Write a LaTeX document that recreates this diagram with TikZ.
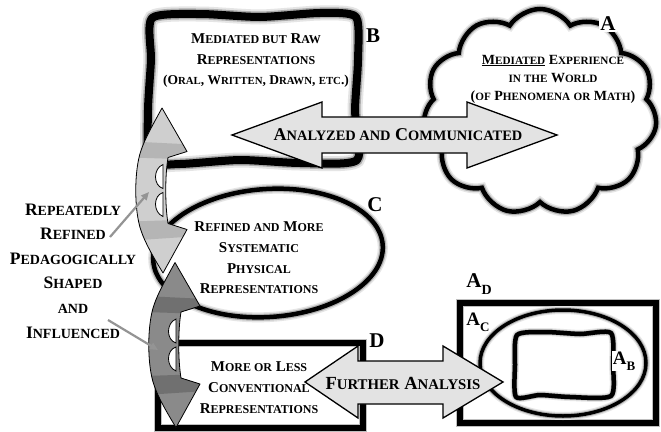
\documentclass[tikz,border=0pt]{standalone}
\usepackage{fontspec}
\setmainfont{Liberation Serif}
\usetikzlibrary{shapes.symbols,arrows.meta}
\newcommand\q[1]{\scalebox{0.8}{#1}}
\newcommand\cycarrows[3]{%
\begin{scope}[shift={#1}]
  \begin{scope}
    \clip (0,-82.5) -- (25,-39) -- (6,-33) .. controls (3,-15) and (3,15) .. (6,33) -- (25,39) -- (1,82.5) .. controls (-9,66) and (-17,52) .. (-21,40) .. controls (-28,20) and (-28,-20) .. (-21,-40) .. controls (-17,-52) and (-9,-66) .. (0,-82.5) -- cycle;
    \fill[#2] (-40,-90) rectangle (40,90);
    \fill[#3] (-30,-49) -- (30,-46) -- (30,-31) -- (-30,-33) -- cycle;
    \fill[#3] (-30,31) -- (30,29) -- (30,46) -- (-30,50) -- cycle;
  \end{scope}
  \draw[black, line width=0.8pt, line join=round] (0,-82.5) -- (25,-39) -- (6,-33) .. controls (3,-15) and (3,15) .. (6,33) -- (25,39) -- (1,82.5) .. controls (-9,66) and (-17,52) .. (-21,40) .. controls (-28,20) and (-28,-20) .. (-21,-40) .. controls (-17,-52) and (-9,-66) .. (0,-82.5) -- cycle;
  \filldraw[fill=white, draw=black, line width=0.8pt] (1,-26) .. controls (-9,-22) and (-9,-5) .. (1,-2) -- cycle;
  \filldraw[fill=white, draw=black, line width=0.8pt] (1,2) .. controls (-9,5) and (-9,22) .. (1,26) -- cycle;
\end{scope}}
\begin{document}
\begin{tikzpicture}[x=1pt,y=-1pt,
  blurthick/.style={preaction={draw=black!10, line width=15pt}, preaction={draw=black!32, line width=11pt}},
  blurmid/.style={preaction={draw=black!10, line width=10pt}, preaction={draw=black!30, line width=7pt}},
  blurthin/.style={preaction={draw=black!10, line width=8pt}, preaction={draw=black!30, line width=5.5pt}},
  bt/.style={font=\bfseries\fontsize{15}{20.5}\selectfont, align=center, inner sep=0pt},
  lbl/.style={font=\bfseries\fontsize{21}{21}\selectfont, inner sep=0pt},
  sublbl/.style={font=\bfseries\fontsize{19}{19}\selectfont, inner sep=1pt, fill=white},
  dblarrow/.style={fill=black!11, draw=black, line width=1.3pt, line join=miter},
  hint/.style={draw=black!42, line width=2.2pt, -{Triangle[length=8pt,width=7pt]}},
]
\useasboundingbox (0,0) rectangle (661,431);
\fill[white] (0,0) rectangle (661,431);

% Box B
\draw[line width=8pt, line join=round, blurthick] plot[smooth cycle, tension=0.4] coordinates {(152,18) (200,14) (260,17) (320,13) (356,17) (358,60) (355,110) (357,160) (300,163) (240,160) (180,164) (150,161) (148,110) (151,60)};
% Cloud A
\node (A) [cloud, cloud puffs=11, cloud puff arc=115, cloud ignores aspect, minimum width=234pt, minimum height=206pt, draw, line width=4.5pt, blurmid] at (540,112) {};
% Ellipse C
\draw[line width=4.5pt, blurmid] (268,253) ellipse [x radius=115, y radius=64, rotate=4];
% Box D
\draw[line width=5.5pt, preaction={draw=black!25, line width=8pt}] (158,343) rectangle (363,428);
% A_D
\draw[line width=5.5pt, preaction={draw=black!25, line width=8pt}] (460,303) rectangle (656,423);
% A_C
\draw[line width=3.5pt, blurthin] (563,363) ellipse [x radius=83, y radius=53];
% A_B
\draw[line width=4.5pt, line join=round, blurthin] plot[smooth cycle, tension=0.4] coordinates {(517,335) (545,332) (580,334) (611,333) (613,365) (611,396) (570,397) (540,395) (516,397) (515,365)};

% double arrows
\draw[dblarrow] (232,135) -- (322,102) -- (322,117) -- (467,117) -- (467,102) -- (557,135) -- (467,168) -- (467,153) -- (322,153) -- (322,168) -- cycle;
\draw[dblarrow] (305,382) -- (358,346) -- (358,361) -- (443,361) -- (443,346) -- (503,382) -- (443,418) -- (443,404) -- (358,404) -- (358,418) -- cycle;

% cycle arrows
\cycarrows{(162,190.5)}{black!19}{black!29}
\cycarrows{(175,345)}{black!46}{black!56}

% texts
\node[bt] (tB) at (256,61) {M\q{EDIATED BUT} R\q{AW}\\ R\q{EPRESENTATIONS}\\ {\fontsize{13.5}{18}\selectfont (O\q{RAL}, W\q{RITTEN}, D\q{RAWN}, \q{ETC}.)}};
\node[bt, font=\bfseries\fontsize{14}{18}\selectfont] (tA) at (553,79) {\underline{M\q{EDIATED}} E\q{XPERIENCE}\\ \q{IN THE} W\q{ORLD}\\ (\q{OF} P\q{HENOMENA} \q{OR} M\q{ATH})};
\node[bt, font=\bfseries\fontsize{15}{20.7}\selectfont] (tC) at (259,258) {R\q{EFINED AND} M\q{ORE}\\ S\q{YSTEMATIC}\\ P\q{HYSICAL}\\ R\q{EPRESENTATIONS}};
\node[bt, font=\bfseries\fontsize{15}{21}\selectfont] (tD) at (259,388) {M\q{ORE OR} L\q{ESS}\\ C\q{ONVENTIONAL}\\ R\q{EPRESENTATIONS}};
\node[bt, font=\bfseries\fontsize{17.5}{24.6}\selectfont] (tL) at (73,271) {R\q{EPEATEDLY}\\ R\q{EFINED}\\ P\q{EDAGOGICALLY}\\ S\q{HAPED}\\ \q{AND}\\ I\q{NFLUENCED}};
\node[bt, font=\bfseries\fontsize{18}{20}\selectfont] (tAC) at (398,135) {A\q{NALYZED AND} C\q{OMMUNICATED}};
\node[bt, font=\bfseries\fontsize{18.5}{20}\selectfont] (tFA) at (403,383) {F\q{URTHER} A\q{NALYSIS}};

% labels
\node[lbl] (lB) at (373,36) {B};
\node[lbl, fill=white, inner sep=1.5pt] (lA) at (608,24) {A};
\node[lbl] (lC) at (375,205) {C};
\node[lbl] (lD) at (377,341) {D};
\node[lbl] (lAD) at (479,284) {A\raisebox{-0.3em}{\fontsize{14}{14}\selectfont D}};
\node[sublbl] (lAC) at (478,322) {A\raisebox{-0.3em}{\fontsize{13}{13}\selectfont C}};
\node[sublbl] (lAB) at (624,361) {A\raisebox{-0.3em}{\fontsize{13}{13}\selectfont B}};

% hint arrows
\coordinate (h1s) at (110,237);
\coordinate (h1e) at (149,192);
\coordinate (h2s) at (108,320);
\coordinate (h2e) at (158,350);
\draw[hint] (h1s) -- (h1e);
\draw[hint] (h2s) -- (h2e);
\end{tikzpicture}
\end{document}
